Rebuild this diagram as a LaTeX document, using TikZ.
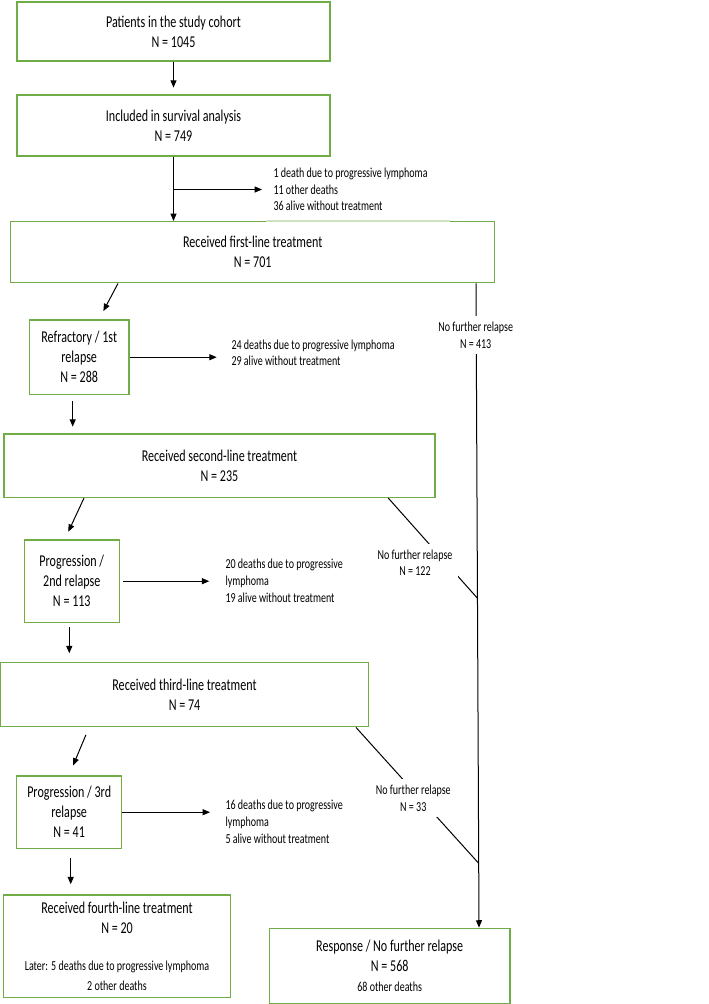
\documentclass[tikz,border=0pt]{standalone}
\usepackage{fontspec}
\setmainfont[FakeStretch=0.73]{Carlito}
\usetikzlibrary{arrows.meta}

\newcommand\bigtxt{\fontsize{12.4}{15}\selectfont}
\newcommand\smalltxt{\fontsize{10.3}{12.5}\selectfont}
\newdimen\px \px=0.75pt
\definecolor{boxgreen}{RGB}{112,173,71}

\tikzset{every picture/.style={line width=0.75pt},
  box/.style={draw=boxgreen, line width=1.1pt, inner sep=0pt, align=center, font=\bigtxt},
  note/.style={anchor=west, inner sep=0pt, align=left, font=\smalltxt},
  nfr/.style={fill=white, inner sep=4.5pt, align=center, font=\smalltxt},
  arr/.style={-{Triangle[length=5.5pt,width=4.5pt]}}}

\begin{document}
\begin{tikzpicture}[x=0.75pt,y=0.75pt,yscale=-1,xscale=1]
\useasboundingbox (0,0) rectangle (709,1004);
%Shape: Rectangle [cohort]
\node[box, minimum width=313\px, minimum height=59\px] (cohort) at (173.5,31.5) {Patients in the study cohort\\N = 1045};
%Shape: Rectangle [survival]
\node[box, minimum width=313\px, minimum height=61\px] (survival) at (173.5,125.5) {Included in survival analysis\\N = 749};
%Shape: Rectangle [first]
\node[box, minimum width=484\px, minimum height=61\px] (first) at (252.7,252.2) {Received first-line treatment\\N = 701};
\draw[draw=boxgreen!35, line width=1.1pt] (first.north -| 266,0) -- (first.north -| 450,0);
%Shape: Rectangle [refractory]
\node[box, minimum width=99.7\px, minimum height=74.3\px] (refractory) at (79.2,357.2) {Refractory / 1st\\relapse\\N = 288};
%Shape: Rectangle [second]
\node[box, minimum width=431\px, minimum height=63.3\px] (second) at (219.5,465.7) {Received second-line treatment\\N = 235};
%Shape: Rectangle [prog2]
\node[box, minimum width=95\px, minimum height=82.3\px] (prog2) at (71.8,581.2) {Progression /\\2nd relapse\\N = 113};
%Shape: Rectangle [third]
\node[box, minimum width=367.5\px, minimum height=64\px] (third) at (184.5,694.7) {Received third-line treatment\\N = 74};
%Shape: Rectangle [prog3]
\node[box, minimum width=105\px, minimum height=72.3\px] (prog3) at (69.2,812.2) {Progression / 3rd\\relapse\\N = 41};
%Shape: Rectangle [fourth]
\node[box, minimum width=227.4\px, minimum height=102.7\px] (fourth) at (117,946.3) {Received fourth-line treatment\\N = 20\\[13pt]{\smalltxt Later: 5 deaths due to progressive lymphoma}\\{\smalltxt 2 other deaths}};
%Shape: Rectangle [resp]
\node[box, minimum width=240.7\px, minimum height=75\px] (resp) at (389.7,965.8) {Response / No further relapse\\N = 568\\{\smalltxt 68 other deaths}};

% Text Node
\node[note] (excl1) at (273,189.5) {1 death due to progressive lymphoma\\11 other deaths\\36 alive without treatment};
% Text Node
\node[note] (excl2) at (231,352.7) {24 deaths due to progressive lymphoma\\29 alive without treatment};
% Text Node
\node[note] (excl3) at (225,580.7) {20 deaths due to progressive\\lymphoma\\19 alive without treatment};
% Text Node
\node[note] (excl4) at (225,821.7) {16 deaths due to progressive\\lymphoma\\5 alive without treatment};

% joins on the right-hand line
\coordinate (m2) at (477.5,598.3);
\coordinate (m3) at (478.7,863.3);

% Connectors
\draw[arr, shorten >=5pt] (cohort) -- (survival);
\draw[arr] (survival) -- (survival |- first.north);
\draw[arr, shorten >=8.25pt] (survival.south |- excl1.west) -- (excl1.west);
\draw[arr, shorten >=7pt] (first.south -| 118,0) -- (refractory.north -| 99,0);
\draw[arr, shorten >=10.7pt] (refractory.east) -- (refractory.east -| excl2.west);
\draw[arr, shorten <=4.5pt, shorten >=5pt] (refractory.south -| 72.7,0) -- (second.north -| 72.7,0);
\draw[arr, shorten >=6.3pt] (second.south -| 84,0) -- (prog2.north -| 64.8,0);
\draw[arr, shorten <=2.25pt, shorten >=11.8pt] (prog2.east) -- (prog2.east -| excl3.west);
\draw[arr, shorten <=3.3pt, shorten >=6.5pt] (prog2.south -| 69.3,0) -- (third.north -| 69.3,0);
\draw[arr, shorten <=6pt, shorten >=8pt] (third.south -| 89,0) -- (prog3.north -| 69,0);
\draw[arr, shorten >=11.25pt] (prog3.east) -- (prog3.east -| excl4.west);
\draw[arr, shorten <=6.75pt, shorten >=7.5pt] (prog3.south -| 70.7,0) -- (fourth.north -| 70.7,0);
\draw[arr] (first.south -| 476,0) -- (resp.north -| 479,0);
\draw (second.south -| 388.3,0) -- (m2);
\draw (third.south -| 356,0) -- (m3);

% Text Node
\node[nfr] (nfr1) at (475.7,335) {No further relapse\\N = 413};
% Text Node
\node[nfr] (nfr2) at (415,562.7) {No further relapse\\N = 122};
% Text Node
\node[nfr] (nfr3) at (413.3,798.3) {No further relapse\\N = 33};
\end{tikzpicture}
\end{document}
